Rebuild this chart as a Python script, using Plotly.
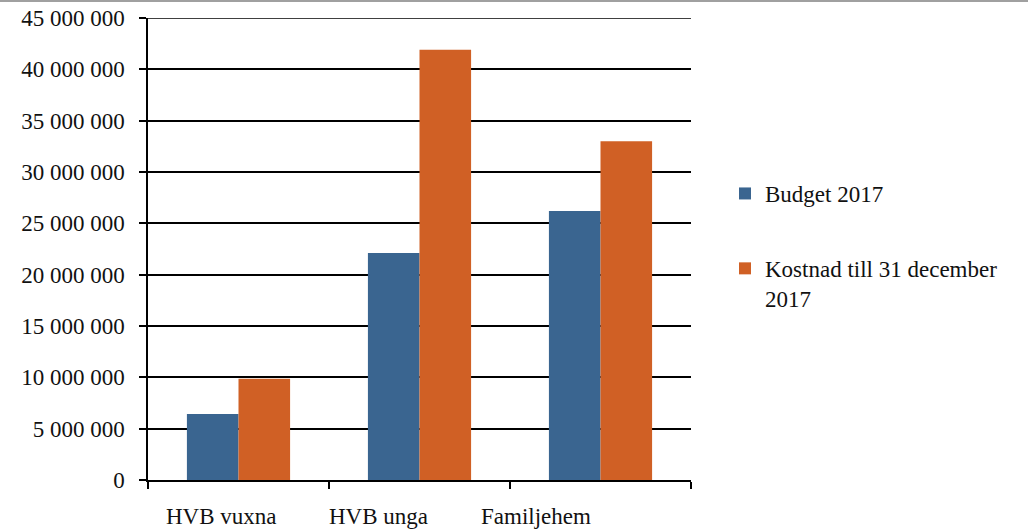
import plotly.graph_objects as go

categories = ["HVB vuxna", "HVB unga", "Familjehem"]
budget_2017 = [6430000, 22100000, 26200000]
kostnad_2017 = [9850000, 41900000, 33000000]
series_names = ["Budget 2017", "Kostnad till 31 december<br>2017"]
y_tickvals = [0, 5000000, 10000000, 15000000, 20000000, 25000000, 30000000, 35000000, 40000000, 45000000]
y_ticktext = ["0", "5 000 000", "10 000 000", "15 000 000", "20 000 000", "25 000 000",
              "30 000 000", "35 000 000", "40 000 000", "45 000 000"]

FONT = "'Liberation Serif', 'Times New Roman', 'DejaVu Serif', serif"
W, H = 1028, 530
L, R, T, B = 148, 337, 18, 50
PW, PH = W - L - R, H - T - B

fig = go.Figure()
fig.add_trace(go.Bar(x=categories, y=budget_2017, name=series_names[0],
                     marker=dict(color="#3A6590", line=dict(width=0)),
                     legendgroup="a"))
fig.add_trace(go.Bar(x=categories, y=kostnad_2017, name=series_names[1],
                     marker=dict(color="#D06025", line=dict(width=0)),
                     legendgroup="b"))

# category labels placed below axis
label_px = [221, 378.5, 535.5]
for cat, px in zip(categories, label_px):
    fig.add_annotation(text=cat, xref="paper", yref="paper",
                       x=(px - L) / PW, y=(480 - 516) / PH,
                       xanchor="center", yanchor="middle", showarrow=False,
                       font=dict(family=FONT, size=23, color="#111111"))

# top gridline (plotly drops gridlines lying on the range edge)
fig.add_shape(type="line", xref="paper", yref="y",
              x0=0, x1=1, y0=y_tickvals[-1], y1=y_tickvals[-1],
              line=dict(color="black", width=1.5), layer="below")

# thin grey rule at top of page
fig.add_shape(type="line", xref="paper", yref="paper",
              x0=-L / PW, x1=(W - L) / PW, y0=1 + 17 / PH, y1=1 + 17 / PH,
              line=dict(color="#A0A0A0", width=2))

fig.update_layout(
    width=W, height=H,
    margin=dict(l=L, r=R, t=T, b=B, pad=0, autoexpand=False),
    paper_bgcolor="white", plot_bgcolor="white",
    barmode="group", bargap=0.43, bargroupgap=0,
    font=dict(family=FONT, size=23, color="#111111"),
    showlegend=True,
    legend=dict(x=(725 - L) / PW, xanchor="left", y=(480 - 172) / PH, yanchor="top",
                font=dict(family=FONT, size=23, color="#111111"),
                tracegroupgap=42, valign="top", bgcolor="rgba(0,0,0,0)"),
    xaxis=dict(showticklabels=False, ticks="outside", ticklen=7, tickwidth=1.5,
               tickcolor="black", tickson="boundaries", automargin=False,
               showline=True, linecolor="black", linewidth=1.5, showgrid=False,
               range=[-0.5, 2.5], fixedrange=True),
    yaxis=dict(range=[0, 45000000], tickvals=y_tickvals, ticktext=y_ticktext,
               ticks="outside", ticklen=7, tickwidth=1.5, tickcolor="black",
               showline=True, linecolor="black", linewidth=1.5, automargin=False,
               showgrid=True, gridcolor="black", gridwidth=1.5,
               zeroline=False, ticklabelstandoff=10, fixedrange=True,
               tickfont=dict(family=FONT, size=23, color="#111111")),
)

fig.write_html(
    "out.html",
    config={"displayModeBar": False},
    post_script="document.body.style.margin='0';document.body.style.overflow='hidden';",
)
